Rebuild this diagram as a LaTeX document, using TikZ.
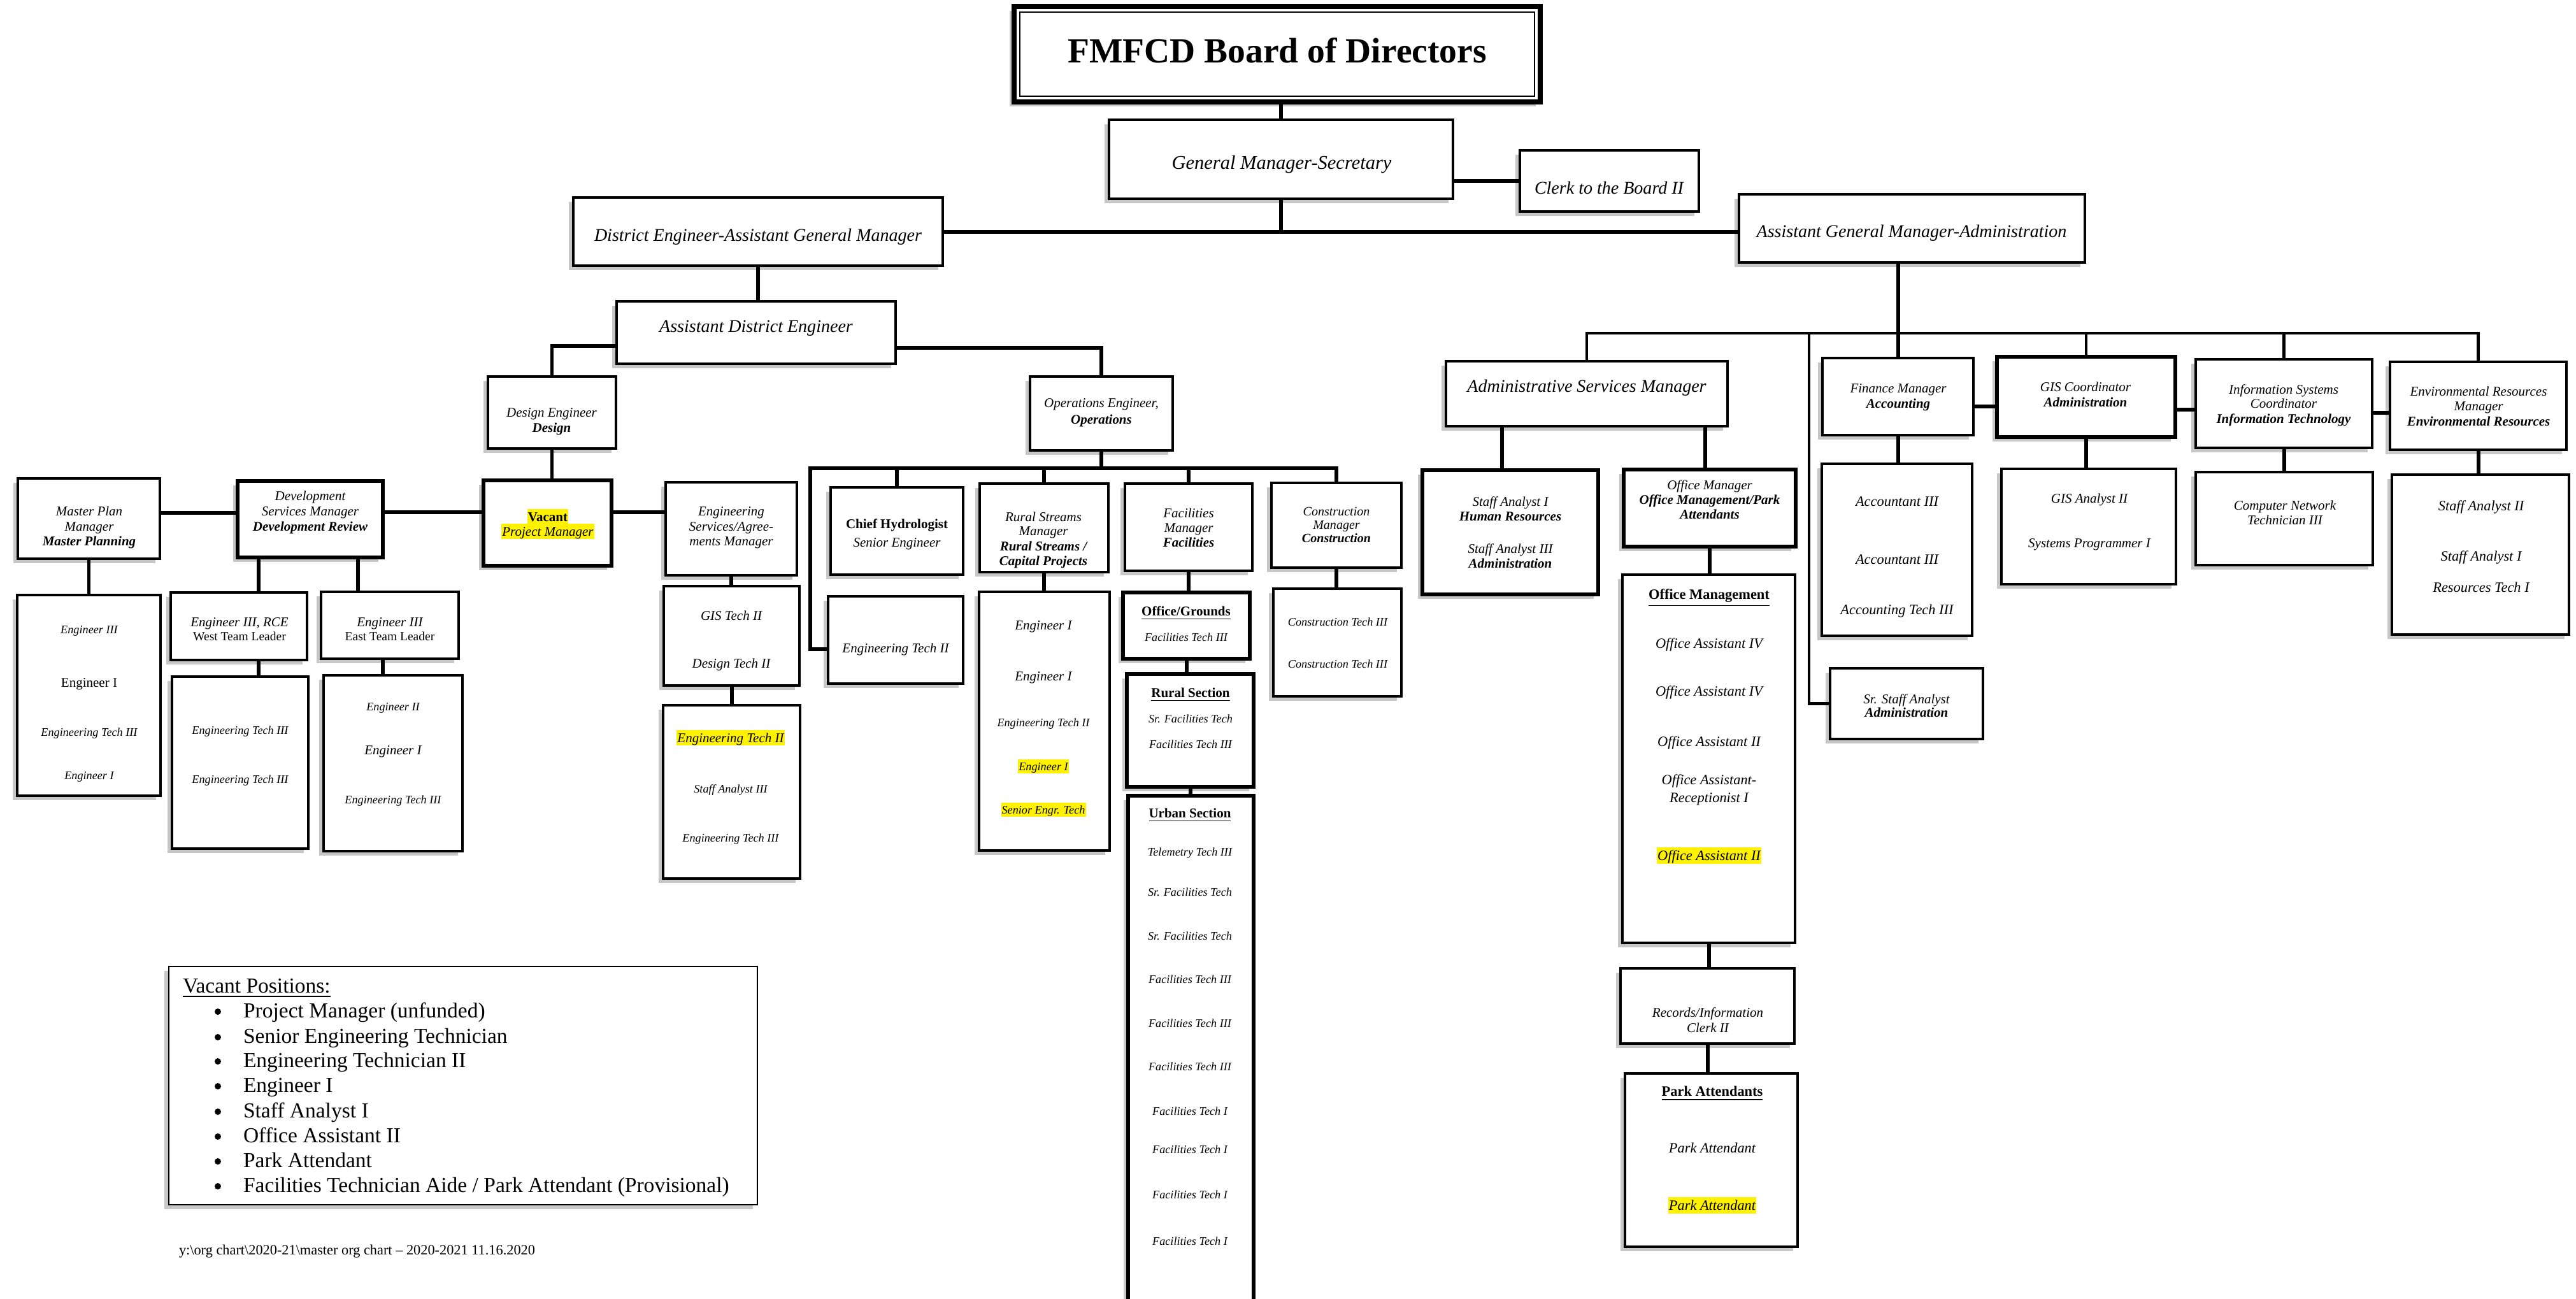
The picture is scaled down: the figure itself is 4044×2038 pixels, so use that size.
\documentclass[tikz,border=0pt]{standalone}
\usepackage{fontspec}
\setmainfont{Liberation Serif}
\usetikzlibrary{shadows}
\newcounter{tc}
\newcommand\Tx[4][]{\stepcounter{tc}\node[tx=#3,#1] (t\arabic{tc}) at (#2) {#4};}
\newcommand\Bx[6][]{\node[box,#1,minimum width={(#5-#3)*0.01cm},minimum height={(#6-#4)*0.01cm}] (#2) at ({(#3+#5)/2},{(#4+#6)/2}) {};}
\newcounter{bc}
\newcommand\Bul[1]{\stepcounter{bc}\node[bulletdot] (b\arabic{bc}) at (342,#1+2) {};}
\def\sA{7.97}
\def\sB{5.97}
\def\sC{5.18}
\def\sD{6.37}
\def\sE{8.68}
\def\sF{15.8}
\def\sL{9.53}
\def\sG{6.35}
\def\sW{5.55}
\def\sK{5.7}
\tikzset{
  tx/.style={inner sep=0pt, outer sep=0pt, anchor=center, text height={0.7pt*#1}, text depth=0pt, font=\fontsize{#1}{#1}\selectfont},
  hl/.style={fill=yellow, text height={0.93pt*#1}, text depth={0.23pt*#1}, inner xsep=0.3pt},
  box/.style={draw, line width=0.9pt, fill=white, inner sep=0pt, outer sep=0pt,
    drop shadow={shadow xshift=-2pt, shadow yshift=-2pt, fill=black!22, opacity=1}},
  tbox/.style={line width=1.6pt},
  conn/.style={line width=1.7pt},
  conn2/.style={line width=1.3pt},
  bulletdot/.style={circle, fill=black, inner sep=0pt, minimum size=0.1cm}
}
\begin{document}
\begin{tikzpicture}[x=0.01cm,y=-0.01cm]
\fill[white] (0,0) rectangle (4044,2038);
\useasboundingbox (0,0) rectangle (4044,2038);

% ---------------- boxes ----------------
\Bx[line width=2.2pt]{board}{1592}{10}{2418}{160}
\draw[line width=0.6pt] ([shift={(9,9)}]board.north west) rectangle ([shift={(-9,-9)}]board.south east);
\Bx[line width=1.2pt]{gm}{1741}{188}{2281}{312}
\Bx{clerk}{2386}{236}{2667}{332}
\Bx[line width=1.1pt]{de}{900}{310}{1480}{417}
\Bx[line width=1.1pt]{ade}{968}{473}{1406}{571}
\Bx[line width=1.1pt]{agma}{2730}{305}{3273}{412}
\Bx{deseng}{766}{591}{967}{704}
\Bx{opseng}{1617}{591}{1841}{707}
\Bx{mp}{28}{751}{251}{877}
\Bx[tbox]{dsm}{373}{755}{601}{875}
\Bx[tbox]{vacant}{759}{754}{960}{888}
\Bx{esam}{1045}{757}{1251}{903}
\Bx{mpsub}{27}{934}{252}{1249}
\Bx{west}{268}{930}{482}{1036}
\Bx{east}{504}{929}{720}{1034}
\Bx{westsub}{270}{1062}{484}{1332}
\Bx{eastsub}{508}{1060}{726}{1336}
\Bx{gistech}{1042}{920}{1255}{1076}
\Bx{engtech}{1041}{1107}{1256}{1379}
\Bx{chief}{1304}{765}{1512}{902}
\Bx{et2}{1300}{936}{1512}{1073}
\Bx{rs}{1538}{759}{1740}{898}
\Bx{rssub}{1537}{929}{1742}{1335}
\Bx{fac}{1766}{759}{1966}{896}
\Bx[tbox]{og}{1763}{930}{1962}{1034}
\Bx[tbox]{rsec}{1769}{1058}{1968}{1235}
\Bx[tbox]{usec}{1771}{1249}{1968}{2090}
\Bx{cons}{1996}{758}{2200}{891}
\Bx{conssub}{1999}{924}{2200}{1093}
\Bx{asm}{2270}{567}{2712}{669}
\Bx[tbox]{sa}{2233}{738}{2509}{933}
\Bx[tbox]{om}{2549}{737}{2819}{858}
\Bx{omgmt}{2547}{902}{2818}{1480}
\Bx{rec}{2544}{1520}{2817}{1638}
\Bx{park}{2551}{1685}{2822}{1957}
\Bx{ssa}{2873}{1049}{3113}{1160}
\Bx{fin}{2861}{562}{3098}{683}
\Bx{acc}{2860}{728}{3096}{998}
\Bx[tbox]{gisc}{3135}{560}{3415}{686}
\Bx{gisa}{3142}{736}{3416}{917}
\Bx{isc}{3447}{564}{3724}{703}
\Bx{cnt}{3447}{741}{3725}{887}
\Bx{env}{3752}{568}{4029}{706}
\Bx{envsub}{3755}{745}{4033}{996}
\Bx[line width=0.8pt]{legend}{265}{1517}{1189}{1891}

% ---------------- connectors ----------------
\draw[conn] (gm.north) -- (gm.north |- board.south);
\draw[conn] (clerk.west) -- (clerk.west -| gm.east);
\coordinate (j1) at (gm.south |- de.east);
\draw[conn] (gm.south) -- (j1);
\draw[conn] (de.east) -- (de.east -| agma.west);
\draw[conn] (de.south) -- (de.south |- ade.north);
\draw[conn] (ade.west |- 0,543) -| (deseng.north);
\draw[conn] (ade.east |- 0,546) -| (opseng.north);
\draw[conn] (deseng.south) -- (deseng.south |- vacant.north);
\draw[conn] (mp.east |- 0,805) -- (dsm.west |- 0,805);
\draw[conn] (dsm.east |- 0,804) -- (vacant.west |- 0,804);
\draw[conn] (vacant.east |- 0,804) -- (esam.west |- 0,804);
\draw[conn] (mp.south) -- (mp.south |- mpsub.north);
\draw[conn] (406,0 |- dsm.south) -- (406,0 |- west.north);
\draw[conn] (406,0 |- west.south) -- (406,0 |- westsub.north);
\draw[conn] (562,0 |- dsm.south) -- (562,0 |- east.north);
\draw[conn] (601,0 |- east.south) -- (601,0 |- eastsub.north);
\draw[conn] (esam.south) -- (esam.south |- gistech.north);
\draw[conn] (gistech.south) -- (gistech.south |- engtech.north);
% operations
\coordinate (ob) at (opseng.south |- 0,735);
\draw[conn] (opseng.south) -- (ob);
\draw[conn] (et2.west |- 0,1019) -- (1272,1019) -- (1272,735) -- (cons.north |- 0,735) -- (cons.north);
\foreach \n in {chief,rs,fac} \draw[conn] (\n.north) -- (\n.north |- ob);
\draw[conn] (rs.south) -- (rs.south |- rssub.north);
\draw[conn] (fac.south) -- (fac.south |- og.north);
\draw[conn] (og.south) -- (og.south |- rsec.north);
\draw[conn] (rsec.south) -- (rsec.south |- usec.north);
\draw[conn] (cons.south) -- (cons.south |- conssub.north);
% administration
\draw[conn] (fin.north |- agma.south) -- (fin.north);
\draw[conn2] (asm.north) -- (asm.north |- 0,523) -- (env.north |- 0,523) -- (env.north);
\draw[conn2] (gisc.north) -- (gisc.north |- 0,523);
\draw[conn2] (isc.north) -- (isc.north |- 0,523);
\coordinate (sbus) at (2840,523);
\draw[conn2] (ssa.west) -| (sbus);
\draw[conn] (2358,0 |- asm.south) -- (2358,0 |- sa.north);
\draw[conn] (2677,0 |- asm.south) -- (2677,0 |- om.north);
\draw[conn] (om.south) -- (om.south |- omgmt.north);
\draw[conn] (omgmt.south) -- (omgmt.south |- rec.north);
\draw[conn] (rec.south) -- (rec.south |- park.north);
\draw[conn] (fin.south) -- (fin.south |- acc.north);
\draw[conn] (fin.east |- 0,638) -- (gisc.west |- 0,638);
\draw[conn] (gisc.east |- 0,643) -- (isc.west |- 0,643);
\draw[conn] (isc.east |- 0,648) -- (env.west |- 0,648);
\draw[conn] (gisc.south) -- (gisc.south |- gisa.north);
\draw[conn] (isc.south) -- (isc.south |- cnt.north);
\draw[conn] (env.south) -- (env.south |- envsub.north);

% ---------------- texts ----------------
\Tx{2005,79}{\sF}{\bfseries FMFCD Board of Directors}
\Tx{2012,255}{\sE}{\itshape General Manager-Secretary}
\Tx{2526,295}{\sA}{\itshape Clerk to the Board II}
\Tx{1190,369}{\sA}{\itshape District Engineer-Assistant General Manager}
\Tx{1187,512}{\sA}{\itshape Assistant District Engineer}
\Tx{3001,363}{\sA}{\itshape Assistant General Manager-Administration}
\Tx{2491,606}{\sA}{\itshape Administrative Services Manager}
% design / ops engineers
\Tx{866,647}{\sB}{\itshape Design Engineer}
\Tx{866,671}{\sB}{\bfseries\itshape Design}
\Tx{1729,632}{\sB}{\itshape Operations Engineer,}
\Tx{1729,658}{\sB}{\bfseries\itshape Operations}
% master plan
\Tx{140,802}{\sB}{\itshape Master Plan}
\Tx{140,826}{\sB}{\itshape Manager}
\Tx{140,849}{\sB}{\bfseries\itshape Master Planning}
\Tx{140,988}{\sC}{\itshape Engineer III}
\Tx{140,1071}{\sB}{Engineer I}
\Tx{140,1149}{\sC}{\itshape Engineering Tech III}
\Tx{140,1217}{\sC}{\itshape Engineer I}
% development services
\Tx{487,778}{\sB}{\itshape Development}
\Tx{487,802}{\sB}{\itshape Services Manager}
\Tx{487,826}{\sB}{\bfseries\itshape Development Review}
\Tx{376,976}{\sB}{\itshape Engineer III, RCE}
\Tx{376,999}{\sW}{West Team Leader}
\Tx{612,976}{\sB}{\itshape Engineer III}
\Tx{612,999}{\sW}{East Team Leader}
\Tx{377,1146}{\sC}{\itshape Engineering Tech III}
\Tx{377,1223}{\sC}{\itshape Engineering Tech III}
\Tx{617,1109}{\sC}{\itshape Engineer II}
\Tx{617,1177}{\sB}{\itshape Engineer I}
\Tx{617,1255}{\sC}{\itshape Engineering Tech III}
% vacant
\Tx[hl=\sB]{860,811}{\sB}{\bfseries Vacant}
\Tx[hl=\sB]{860,834}{\sB}{\itshape Project Manager}
% engineering services
\Tx{1148,802}{\sB}{\itshape Engineering}
\Tx{1148,826}{\sB}{\itshape Services/Agree-}
\Tx{1148,849}{\sB}{\itshape ments Manager}
\Tx{1148,966}{\sB}{\itshape GIS Tech II}
\Tx{1148,1041}{\sB}{\itshape Design Tech II}
\Tx[hl=\sB]{1147,1158}{\sB}{\itshape Engineering Tech II}
\Tx{1147,1238}{\sC}{\itshape Staff Analyst III}
\Tx{1147,1315}{\sC}{\itshape Engineering Tech III}
% chief hydrologist
\Tx{1408,822}{\sB}{\bfseries Chief Hydrologist}
\Tx{1408,851}{\sB}{\itshape Senior Engineer}
\Tx{1406,1017}{\sB}{\itshape Engineering Tech II}
% rural streams
\Tx{1638,811}{\sB}{\itshape Rural Streams}
\Tx{1638,833}{\sB}{\itshape Manager}
\Tx{1638,857}{\sB}{\bfseries\itshape Rural Streams /}
\Tx{1638,880}{\sB}{\bfseries\itshape Capital Projects}
\Tx{1638,981}{\sB}{\itshape Engineer I}
\Tx{1638,1061}{\sB}{\itshape Engineer I}
\Tx{1638,1134}{\sC}{\itshape Engineering Tech II}
\Tx[hl=\sC]{1638,1203}{\sC}{\itshape Engineer I}
\Tx[hl=\sC]{1638,1271}{\sC}{\itshape Senior Engr. Tech}
% facilities
\Tx{1866,805}{\sB}{\itshape Facilities}
\Tx{1866,828}{\sB}{\itshape Manager}
\Tx{1866,851}{\sB}{\bfseries\itshape Facilities}
\Tx{1862,959}{\sB}{\bfseries\underline{Office/Grounds}}
\Tx{1862,1000}{\sC}{\itshape Facilities Tech III}
\Tx{1869,1087}{\sB}{\bfseries\underline{Rural Section}}
\Tx{1869,1128}{\sC}{\itshape Sr. Facilities Tech}
\Tx{1869,1168}{\sC}{\itshape Facilities Tech III}
\Tx{1868,1276}{\sB}{\bfseries\underline{Urban Section}}
\Tx{1868,1337}{\sC}{\itshape Telemetry Tech III}
\Tx{1868,1400}{\sC}{\itshape Sr. Facilities Tech}
\Tx{1868,1469}{\sC}{\itshape Sr. Facilities Tech}
\Tx{1868,1537}{\sC}{\itshape Facilities Tech III}
\Tx{1868,1606}{\sC}{\itshape Facilities Tech III}
\Tx{1868,1674}{\sC}{\itshape Facilities Tech III}
\Tx{1868,1744}{\sC}{\itshape Facilities Tech I}
\Tx{1868,1804}{\sC}{\itshape Facilities Tech I}
\Tx{1868,1875}{\sC}{\itshape Facilities Tech I}
\Tx{1868,1948}{\sC}{\itshape Facilities Tech I}
% construction
\Tx{2098,802}{\sK}{\itshape Construction}
\Tx{2098,823}{\sK}{\itshape Manager}
\Tx{2098,844}{\sK}{\bfseries\itshape Construction}
\Tx{2100,976}{\sC}{\itshape Construction Tech III}
\Tx{2100,1042}{\sC}{\itshape Construction Tech III}
% staff analyst
\Tx{2371,787}{\sB}{\itshape Staff Analyst I}
\Tx{2371,810}{\sB}{\bfseries\itshape Human Resources}
\Tx{2371,861}{\sB}{\itshape Staff Analyst III}
\Tx{2371,884}{\sB}{\bfseries\itshape Administration}
% office manager
\Tx{2684,761}{\sB}{\itshape Office Manager}
\Tx{2684,784}{\sB}{\bfseries\itshape Office Management/Park}
\Tx{2684,807}{\sB}{\bfseries\itshape Attendants}
\Tx{2683,933}{\sD}{\bfseries\underline{Office Management}}
\Tx{2683,1010}{\sD}{\itshape Office Assistant IV}
\Tx{2683,1085}{\sD}{\itshape Office Assistant IV}
\Tx{2683,1164}{\sD}{\itshape Office Assistant II}
\Tx{2683,1224}{\sD}{\itshape Office Assistant-}
\Tx{2683,1252}{\sD}{\itshape Receptionist I}
\Tx[hl=\sD]{2683,1343}{\sD}{\itshape Office Assistant II}
\Tx{2681,1589}{\sB}{\itshape Records/Information}
\Tx{2681,1613}{\sB}{\itshape Clerk II}
\Tx{2688,1713}{\sD}{\bfseries\underline{Park Attendants}}
\Tx{2688,1802}{\sD}{\itshape Park Attendant}
\Tx[hl=\sD]{2688,1892}{\sD}{\itshape Park Attendant}
% sr staff analyst
\Tx{2993,1097}{\sB}{\itshape Sr. Staff Analyst}
\Tx{2993,1118}{\sB}{\bfseries\itshape Administration}
% finance
\Tx{2980,609}{\sB}{\itshape Finance Manager}
\Tx{2980,633}{\sB}{\bfseries\itshape Accounting}
\Tx{2978,787}{\sD}{\itshape Accountant III}
\Tx{2978,878}{\sD}{\itshape Accountant III}
\Tx{2978,957}{\sD}{\itshape Accounting Tech III}
% GIS
\Tx{3274,607}{\sB}{\itshape GIS Coordinator}
\Tx{3274,631}{\sB}{\bfseries\itshape Administration}
\Tx{3280,782}{\sB}{\itshape GIS Analyst II}
\Tx{3280,852}{\sB}{\itshape Systems Programmer I}
% information systems
\Tx{3585,611}{\sB}{\itshape Information Systems}
\Tx{3585,633}{\sB}{\itshape Coordinator}
\Tx{3585,657}{\sB}{\bfseries\itshape Information Technology}
\Tx{3587,793}{\sB}{\itshape Computer Network}
\Tx{3587,816}{\sB}{\itshape Technician III}
% environmental
\Tx{3891,614}{\sB}{\itshape Environmental Resources}
\Tx{3891,637}{\sB}{\itshape Manager}
\Tx{3891,661}{\sB}{\bfseries\itshape Environmental Resources}
\Tx{3895,794}{\sD}{\itshape Staff Analyst II}
\Tx{3895,873}{\sD}{\itshape Staff Analyst I}
\Tx{3895,922}{\sD}{\itshape Resources Tech I}
% legend
\Tx[anchor=west]{287,1547}{\sL}{\underline{Vacant Positions:}}
\Bul{1586}\Tx[anchor=west]{382,1586}{\sL}{Project Manager (unfunded)}
\Bul{1626}\Tx[anchor=west]{382,1626}{\sL}{Senior Engineering Technician}
\Bul{1664}\Tx[anchor=west]{382,1664}{\sL}{Engineering Technician II}
\Bul{1703}\Tx[anchor=west]{382,1703}{\sL}{Engineer I}
\Bul{1743}\Tx[anchor=west]{382,1743}{\sL}{Staff Analyst I}
\Bul{1782}\Tx[anchor=west]{382,1782}{\sL}{Office Assistant II}
\Bul{1821}\Tx[anchor=west]{382,1821}{\sL}{Park Attendant}
\Bul{1860}\Tx[anchor=west]{382,1860}{\sL}{Facilities Technician Aide / Park Attendant (Provisional)}
\Tx[anchor=west]{281,1962}{\sG}{y:\textbackslash org chart\textbackslash 2020-21\textbackslash master org chart – 2020-2021 11.16.2020}
\end{tikzpicture}
\end{document}
